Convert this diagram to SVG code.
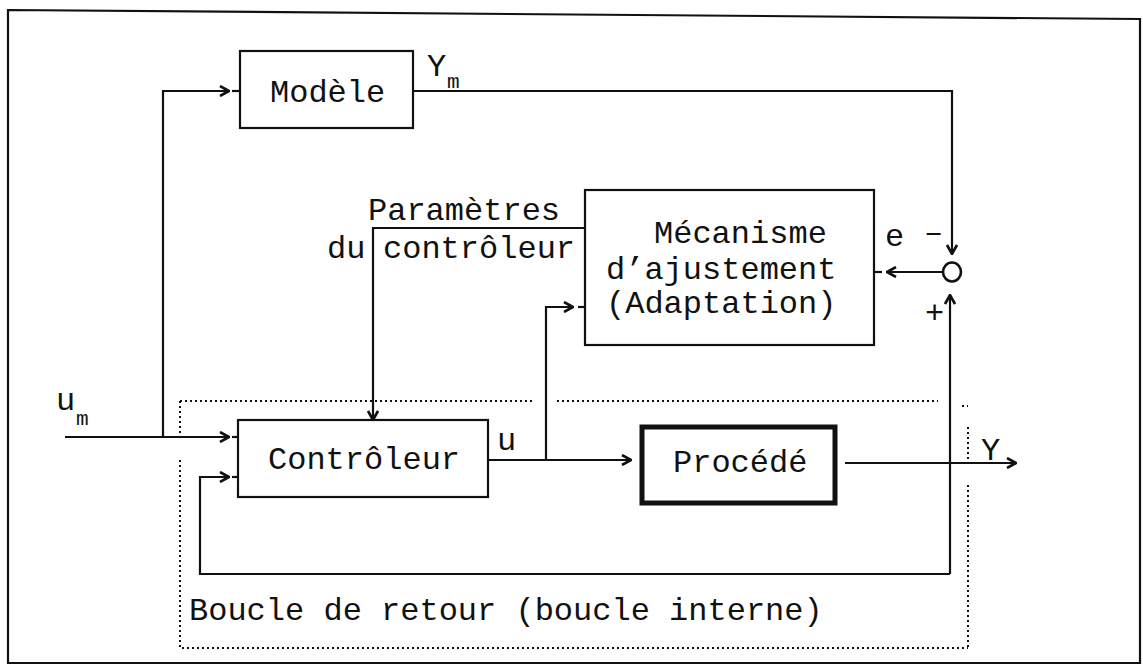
<svg xmlns="http://www.w3.org/2000/svg" width="1143" height="668" viewBox="0 0 1143 668">
<defs>
<style>
.t{font-family:"Liberation Mono","DejaVu Sans Mono",monospace;font-size:32px;fill:#111}
.s{font-family:"Liberation Mono","DejaVu Sans Mono",monospace;font-size:21px;fill:#111}
.box{fill:#fff;stroke:#111;stroke-width:2.2}
.ln{fill:none;stroke:#111;stroke-width:2.2}
.dot{fill:none;stroke:#111;stroke-width:2;stroke-dasharray:2 3}
</style>
<marker id="ah" viewBox="0 0 12 12" refX="11" refY="6" markerWidth="12" markerHeight="12" markerUnits="userSpaceOnUse" orient="auto">
<path d="M2,1 L11,6 L2,11" fill="none" stroke="#111" stroke-width="2.6"/>
</marker>
</defs>
<rect x="0" y="0" width="1143" height="668" fill="#fff"/>
<polygon points="8,10 1140,19 1140,663 8,663" class="ln"/>

<g id="loop-boundary">
<path class="dot" d="M180,401 H535 M557,401 H938 M962,406 H968 M180,401 V437 M180,460 V648 H968 M968,427 V462 M968,485 V648"/>
<text class="t" x="189" y="620">Boucle de retour (boucle interne)</text>
</g>

<g id="connectors">
<path class="ln" d="M65,437 H229" marker-end="url(#ah)"/>
<path class="ln" d="M232,437 H238"/>
<path class="ln" d="M163,437 V91 H229" marker-end="url(#ah)"/>
<path class="ln" d="M232,91 H240"/>
<path class="ln" d="M413,91 H952 V254" marker-end="url(#ah)"/>
<path class="ln" d="M942,272 H887" marker-end="url(#ah)"/>
<path class="ln" d="M874,272 H882"/>
<path class="ln" d="M585,228 H373 V420" marker-end="url(#ah)"/>
<path class="ln" d="M488,460 H631" marker-end="url(#ah)"/>
<path class="ln" d="M546,460 V307 H573" marker-end="url(#ah)"/>
<path class="ln" d="M578,307 H585"/>
<path class="ln" d="M845,463 H1016" marker-end="url(#ah)"/>
<path class="ln" d="M950,574 V295" marker-end="url(#ah)"/>
<path class="ln" d="M950,574 H200 V477 H229" marker-end="url(#ah)"/>
<path class="ln" d="M232,477 H238"/>
</g>

<g id="labels">
<text class="t" x="427" y="76" font-size="29">Y</text><text class="s" x="447" y="88">m</text>
<text class="t" x="368" y="220">Paramètres</text>
<text class="t" x="327" y="258">du</text>
<text class="t" x="383" y="258">contrôleur</text>
<text class="t" x="885" y="246">e</text>
<text class="t" x="924" y="242">–</text>
<text class="t" x="925" y="323">+</text>
<text class="t" x="497" y="450">u</text>
<text class="t" x="981" y="460">Y</text>
<text class="t" x="56" y="410" font-size="29">u</text><text class="s" x="76" y="425">m</text>
</g>

<g id="modele">
<rect class="box" x="240" y="51" width="173" height="77"/>
<text class="t" x="270" y="102">Modèle</text>
</g>

<g id="mecanisme">
<rect class="box" x="585" y="190" width="289" height="155"/>
<text class="t" x="654" y="243">Mécanisme</text>
<text class="t" x="606" y="279">d’ajustement</text>
<text class="t" x="606" y="313">(Adaptation)</text>
</g>

<g id="comparateur">
<ellipse cx="952" cy="272" rx="9" ry="9.5" fill="#fff" stroke="#111" stroke-width="2.6"/>
</g>

<g id="controleur">
<rect class="box" x="238" y="420" width="250" height="77"/>
<text class="t" x="268" y="469">Contrôleur</text>
</g>

<g id="procede">
<rect x="642" y="427" width="193" height="76" fill="#fff" stroke="#111" stroke-width="5"/>
<text class="t" x="673" y="472">Procédé</text>
</g>
</svg>
